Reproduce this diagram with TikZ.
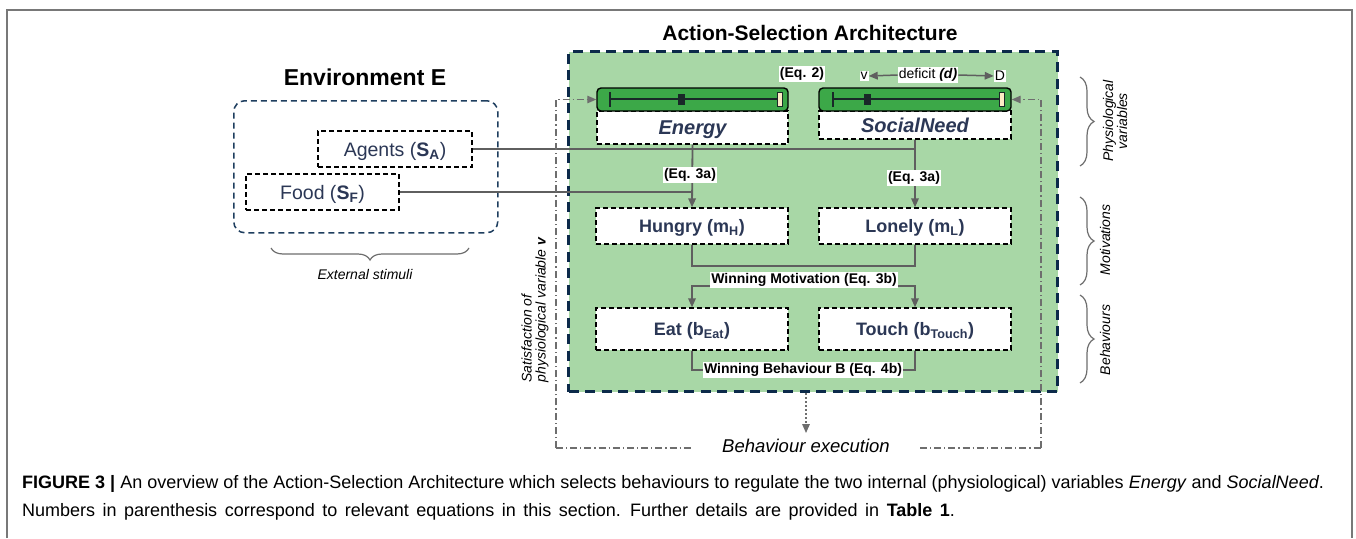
\documentclass[tikz,border=0pt]{standalone}
\usepackage{fontspec}
\setmainfont{Liberation Sans}
\usetikzlibrary{arrows.meta,decorations.pathreplacing,calc}
\definecolor{greenbg}{RGB}{168,215,166}
\definecolor{bargreen}{RGB}{60,168,72}
\definecolor{asanavy}{RGB}{12,42,74}
\definecolor{envnavy}{RGB}{30,62,95}
\definecolor{labelc}{RGB}{43,55,85}
\definecolor{connc}{RGB}{95,95,95}
\definecolor{ddc}{RGB}{110,110,110}
\definecolor{creamc}{RGB}{252,236,196}
\definecolor{bardark}{RGB}{25,40,40}
\definecolor{framec}{RGB}{120,120,120}
\newcommand{\fs}[1]{\fontsize{#1}{#1}\selectfont}
\tikzset{
  wbox/.style={draw=black, dash pattern=on 5pt off 3pt, line width=1.4pt, fill=white,
    inner sep=0pt, text=labelc, font=\bfseries\fs{18}, text height=13pt, text depth=0pt},
  sbox/.style={draw=black, dash pattern=on 5pt off 3pt, line width=1.4pt, fill=white,
    inner sep=0pt, text=labelc, font=\fs{19.5}, text height=14pt, text depth=0pt},
  barbox/.style={draw=black, line width=1.4pt, fill=bargreen, rounded corners=4pt,
    minimum height=23pt, inner sep=0pt},
  eqlab/.style={fill=white, inner sep=1pt, font=\bfseries\fs{14}},
  conn/.style={draw=connc, line width=1.8pt},
  arr/.style={-{Triangle[length=9pt,width=7.5pt]}},
  dd/.style={draw=ddc, line width=1.3pt, dash pattern=on 7pt off 3pt on 1.2pt off 3pt},
  bracec/.style={draw=ddc, line width=1.2pt, decorate},
  sidelab/.style={rotate=90, font=\itshape\fs{14}, align=center},
}
\begin{document}
\begin{tikzpicture}[x=1pt,y=-1pt]
\useasboundingbox (0,0) rectangle (1356,538);
\fill[white] (0,0) rectangle (1356,538);
% frame
\draw[framec, line width=1.2pt] (7,538) -- (7,10) -- (1352,10) -- (1352,538);

% Environment
\node[font=\bfseries\fs{23}] (envtitle) at (365,77) {Environment E};
\node[draw=envnavy, line width=1.5pt, dash pattern=on 6pt off 4pt, rounded corners=11pt,
  minimum width=264pt, minimum height=132pt, inner sep=0pt, anchor=north west] (env) at (233,100) {};
\node[sbox, minimum width=154pt, minimum height=36pt] (agents) at (395,149) {Agents (\textbf{S\textsubscript{A}})};
\node[sbox, minimum width=153pt, minimum height=36pt] (food) at (322.5,192) {Food (\textbf{S\textsubscript{F}})};
\draw[bracec, decoration={brace, amplitude=12pt}] (469,248) -- (271,248);
\node[font=\itshape\fs{14}] (ext) at (365,274) {External stimuli};

% Action-selection architecture
\node[font=\bfseries\fs{21}] (asatitle) at (810,33) {Action-Selection Architecture};
\node[draw=asanavy, fill=greenbg, line width=3pt, dash pattern=on 10pt off 6.5pt,
  minimum width=489pt, minimum height=340pt, inner sep=0pt, anchor=north west] (asa) at (567,50) {};

% physiological variables
\node[wbox, font=\bfseries\itshape\fs{20}, text height=14.3pt, minimum width=191pt, minimum height=33pt] (energy) at (692.5,127.5) {Energy};
\node[wbox, font=\bfseries\itshape\fs{20}, text height=14.3pt, minimum width=192pt, minimum height=28pt] (social) at (915,125) {SocialNeed};
\node[barbox, minimum width=191pt] (ebar) at (692.5,99.5) {};
\node[barbox, minimum width=192pt] (sbar) at (915,99.5) {};
% bar internals
\draw[bardark, line width=1.5pt] (610,99) -- (778,99);
\draw[bardark, line width=1.5pt] (610,92) -- (610,107);
\fill[bardark] (677.5,94) rectangle (684.5,105);
\draw[bardark, line width=1pt, fill=creamc] (777,92.5) rectangle (782.5,106.5);
\draw[bardark, line width=1.5pt] (833,99) -- (1001,99);
\draw[bardark, line width=1.5pt] (833,92) -- (833,107);
\fill[bardark] (863.5,94) rectangle (870.5,105);
\draw[bardark, line width=1pt, fill=creamc] (999,92.5) rectangle (1004.5,106.5);

\node[eqlab] (eq2) at (802,74) {(Eq. 2)};
\node[fill=white, inner sep=1pt, font=\fs{14}] (vlab) at (864,76) {v};
\node[fill=white, inner sep=1pt, font=\fs{14}] (Dlab) at (1000,76) {D};
\node[fill=white, inner sep=1pt, font=\fs{14}] (def) at (928,75) {deficit \textbf{\textit{(d)}}};
\draw[conn, line width=1.5pt, arr] (def.west) -- (vlab.east);
\draw[conn, line width=1.5pt, arr] (def.east) -- (Dlab.west);

% motivations and behaviours
\node[wbox, minimum width=192pt, minimum height=36pt] (hungry) at (692,226) {Hungry (m\textsubscript{H})};
\node[wbox, minimum width=192pt, minimum height=36pt] (lonely) at (915,226) {Lonely (m\textsubscript{L})};
\node[wbox, minimum width=192pt, minimum height=42pt] (eat) at (692,329) {Eat (b\textsubscript{Eat})};
\node[wbox, minimum width=192pt, minimum height=42pt] (touch) at (915,329) {Touch (b\textsubscript{Touch})};

% connectors
\draw[conn, arr] (energy.south) -- (hungry.north);
\draw[conn, arr] (social.south) -- (lonely.north);
\draw[conn] (food.east) -- (food.east -| energy.south);
\draw[conn] (agents.east) -- (agents.east -| social.south);
\node[eqlab] (eq3a) at (690,175) {(Eq. 3a)};
\node[eqlab] (eq3b) at (914,178) {(Eq. 3a)};
\draw[conn] (hungry.south) -- ++(0,21) -| (lonely.south);
\node[eqlab] (wm) at (804,280) {Winning Motivation (Eq. 3b)};
\draw[conn, arr] ($(wm.west)+(0,6)$) -| (eat.north);
\draw[conn, arr] ($(wm.east)+(0,6)$) -| (touch.north);
\node[eqlab] (wb) at (803,370) {Winning Behaviour B (Eq. 4b)};
\draw[conn] (eat.south) |- (wb.west);
\draw[conn] (touch.south) |- (wb.east);

% behaviour execution loop
\node[font=\itshape\fs{18.5}, inner xsep=30pt, inner ysep=4pt] (bexec) at (806,446) {Behaviour execution};
\coordinate (lc) at (556,448);
\coordinate (rc) at (1041,448);
\draw[dd, arr] (lc) |- (ebar.west);
\draw[dd, arr] (rc) |- (sbar.east);
\draw[dd] (lc) -- (lc -| bexec.west);
\draw[dd] (rc -| bexec.east) -- (rc);
\draw[draw=ddc, line width=1.5pt, dash pattern=on 1.5pt off 2.5pt, arr] (asa.south -| bexec.north) -- ($(bexec.north)+(0,-2)$);
\node[rotate=90, font=\itshape\fs{14}, align=left] (satis) at (535,310) {Satisfaction of\\physiological variable \textbf{v}};

% side braces
\draw[bracec, decoration={brace, amplitude=14pt}] (1080,77) -- (1080,166);
\node[sidelab] (physlab) at (1115,121) {Physiological\\variables};
\draw[bracec, decoration={brace, amplitude=14pt}] (1080,197) -- (1080,285);
\node[sidelab] (motlab) at (1105,240) {Motivations};
\draw[bracec, decoration={brace, amplitude=14pt}] (1080,295) -- (1080,383);
\node[sidelab] (behlab) at (1105,340) {Behaviours};

% caption
\node[anchor=west, font=\fs{18}, inner sep=0pt] (cap1) at (22,484) {\textbf{FIGURE 3 |} An overview of the Action-Selection Architecture which selects behaviours to regulate the two internal (physiological) variables \textit{Energy} and \textit{SocialNeed}.};
\node[anchor=west, font=\fs{18}, inner sep=0pt] (cap2) at (22,512) {\spaceskip=7.5pt plus 0pt minus 0pt Numbers in parenthesis correspond to relevant equations in this section. Further details are provided in \textbf{Table 1}.};
\end{tikzpicture}
\end{document}
